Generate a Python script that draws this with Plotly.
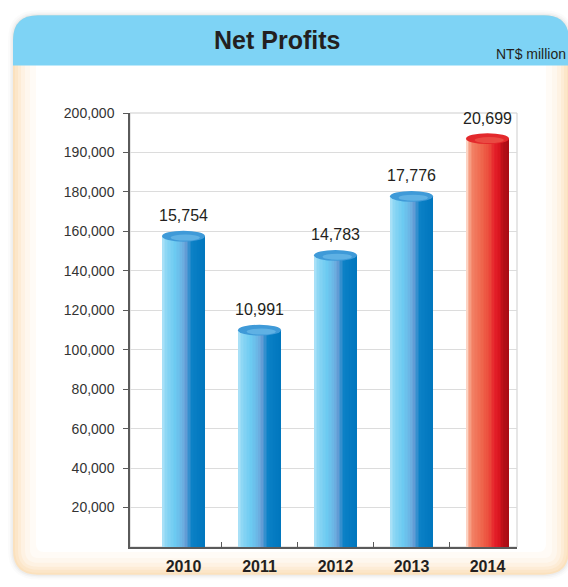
import plotly.graph_objects as go

# ---------------- data ----------------
years = ["2010", "2011", "2012", "2013", "2014"]
net_profits = [15754, 10991, 14783, 17776, 20699]          # NT$ million
value_labels = ["15,754", "10,991", "14,783", "17,776", "20,699"]
y_tick_labels = ["20,000", "40,000", "60,000", "80,000", "100,000", "120,000",
                 "140,000", "160,000", "180,000", "190,000", "200,000"]
highlight_year = "2014"

# ---------------- geometry / style ----------------
W, H = 568, 587
L, R, T, B = 130, 51, 113, 35
PW, PH = W - L - R, H - T - B
TICK_STEP = 2000
Y_MAX = TICK_STEP * len(y_tick_labels)
X_RANGE = [-0.704, 4.388]
BAR_W = 0.566
N_SLICES = 28
FONT = "Arial, Liberation Sans, Helvetica, sans-serif"
TXT = "#231f20"

blue_stops = [(0, "#aee2f8"), (0.10, "#8ad6f4"), (0.30, "#6ccaf1"), (0.44, "#6bb9e7"),
              (0.54, "#6a9fd6"), (0.62, "#3790cf"), (0.70, "#0a80c6"), (1, "#0076bd")]
red_stops = [(0, "#fde5d8"), (0.06, "#f8aa90"), (0.15, "#f28064"), (0.40, "#ee6249"),
             (0.55, "#ea4639"), (0.66, "#e5212a"), (0.78, "#d9151f"), (0.86, "#b60f17"),
             (1, "#a70d14")]


def hex2rgb(h):
    h = h.lstrip("#")
    return tuple(int(h[i:i + 2], 16) for i in (0, 2, 4))


def interp(stops, t):
    for (t0, c0), (t1, c1) in zip(stops[:-1], stops[1:]):
        if t0 <= t <= t1:
            f = 0 if t1 == t0 else (t - t0) / (t1 - t0)
            a, b = hex2rgb(c0), hex2rgb(c1)
            return "rgb(%d,%d,%d)" % tuple(round(a[i] + (b[i] - a[i]) * f) for i in range(3))
    return stops[-1][1]


def px2x(px):
    return (px - L) / PW


def py2y(py):
    return (H - B - py) / PH


def path_str(pts):
    s = ""
    for cmd, ps in pts:
        s += cmd + " " + " ".join("%.5f,%.5f" % (px2x(a), py2y(b)) for a, b in ps) + " "
    return s + "Z"


def rrect_path(x0, y0, x1, y1, r):
    return path_str([
        ("M", [(x0 + r, y0)]), ("L", [(x1 - r, y0)]), ("Q", [(x1, y0), (x1, y0 + r)]),
        ("L", [(x1, y1 - r)]), ("Q", [(x1, y1), (x1 - r, y1)]), ("L", [(x0 + r, y1)]),
        ("Q", [(x0, y1), (x0, y1 - r)]), ("L", [(x0, y0 + r)]), ("Q", [(x0, y0), (x0 + r, y0)]),
    ])


def band_path(x0, y0, x1, y1, r):
    return path_str([
        ("M", [(x0, y1)]), ("L", [(x0, y0 + r)]), ("Q", [(x0, y0), (x0 + r, y0)]),
        ("L", [(x1 - r, y0)]), ("Q", [(x1, y0), (x1, y0 + r)]), ("L", [(x1, y1)]),
    ])


fig = go.Figure()

xs = list(range(len(years)))
is_hi = [y == highlight_year for y in years]

# gradient cylinders: overlayed bar slices
sw = BAR_W / N_SLICES
for k in range(N_SLICES):
    t = (k + 0.5) / N_SLICES
    off = -BAR_W / 2 + k * sw
    width = min(sw * 1.35, BAR_W / 2 - off)
    cols = [interp(red_stops if h else blue_stops, t) for h in is_hi]
    fig.add_trace(go.Bar(
        x=xs, y=net_profits, offset=off, width=width,
        marker=dict(color=cols, line=dict(width=0)),
        hoverinfo="skip", showlegend=False,
    ))

shapes = []
# soft outer shadow
for d, a in [(5, 0.015), (3, 0.022), (1.5, 0.03)]:
    shapes.append(dict(type="path", xref="paper", yref="paper", layer="below",
                       path=rrect_path(13 - d, 14 - d, 569 + d, 580 + d, 25 + d),
                       fillcolor="rgba(0,0,0,%.3f)" % a, line=dict(width=0)))
# panel with warm inner glow
for inset, col in [(0, "#fbe1bd"), (2, "#fce6c9"), (5, "#fdecd6"), (8, "#fef2e3"),
                   (12, "#fef7ee"), (17, "#fffbf6"), (23, "#ffffff")]:
    shapes.append(dict(type="path", xref="paper", yref="paper", layer="below",
                       path=rrect_path(13 + inset, 14 + inset, 569 - inset, 580 - inset,
                                       max(25 - inset, 8)),
                       fillcolor=col, line=dict(width=0)))
# header band
shapes.append(dict(type="path", xref="paper", yref="paper", layer="below",
                   path=band_path(13, 14, 569, 65, 25),
                   fillcolor="#7ed3f5", line=dict(width=0)))
# light frame of plot area
shapes.append(dict(type="rect", xref="paper", yref="paper", layer="below",
                   x0=0, x1=1, y0=0, y1=1, line=dict(color="#cdcdcd", width=1),
                   fillcolor="rgba(0,0,0,0)"))

# cylinder caps
hh = 5.5 * Y_MAX / PH
for x, v, h in zip(xs, net_profits, is_hi):
    outer = "#e3292c" if h else "#3f9ad8"
    inner = "#ee6152" if h else "#74c2ec"
    shapes.append(dict(type="circle", xref="x", yref="y",
                       x0=x - BAR_W / 2, x1=x + BAR_W / 2, y0=v - hh, y1=v + hh,
                       fillcolor=outer, line=dict(width=0)))
    shapes.append(dict(type="circle", xref="x", yref="y",
                       x0=x - BAR_W * 0.30, x1=x + BAR_W * 0.38,
                       y0=v - hh * 0.8, y1=v + hh * 0.3,
                       fillcolor=inner, opacity=0.6, line=dict(width=0)))

annotations = []
for x, v, lab in zip(xs, net_profits, value_labels):
    annotations.append(dict(x=x, y=v, xref="x", yref="y", text=lab, showarrow=False,
                            yanchor="bottom", yshift=10,
                            font=dict(family=FONT, size=16, color=TXT)))
annotations.append(dict(x=px2x(277), y=py2y(39), xref="paper", yref="paper",
                        text="Net Profits", showarrow=False, xanchor="center", yanchor="middle",
                        font=dict(family=FONT, size=25, color=TXT, weight="bold")))
annotations.append(dict(x=px2x(568), y=py2y(53), xref="paper", yref="paper",
                        text="NT$ million", showarrow=False, xanchor="right", yanchor="middle",
                        font=dict(family=FONT, size=14, color=TXT)))

fig.update_layout(
    width=W, height=H,
    margin=dict(l=L, r=R, t=T, b=B, pad=0),
    paper_bgcolor="#ffffff", plot_bgcolor="rgba(0,0,0,0)",
    barmode="overlay", bargap=0,
    shapes=shapes, annotations=annotations,
    showlegend=False,
)
fig.update_xaxes(
    type="linear", range=X_RANGE, tickmode="array", tickvals=xs, ticktext=years,
    ticks="", showgrid=False, zeroline=False,
    showline=True, linecolor="#5a5a5a", linewidth=1.5,
    tickfont=dict(family=FONT, size=16, color=TXT, weight="bold"),
    ticklabelstandoff=4,
    minor=dict(tickmode="array", tickvals=[x + 0.5 for x in xs[:-1]], ticks="inside",
               ticklen=5, tickwidth=1.2, tickcolor="#5a5a5a", showgrid=False),
)
fig.update_yaxes(
    range=[0, Y_MAX], tickmode="array",
    tickvals=[TICK_STEP * (i + 1) for i in range(len(y_tick_labels))],
    ticktext=y_tick_labels,
    ticks="outside", ticklen=5, tickwidth=1.2, tickcolor="#5a5a5a",
    showgrid=True, gridcolor="#dcdcdc", gridwidth=1, zeroline=False,
    showline=True, linecolor="#5a5a5a", linewidth=1.5,
    tickfont=dict(family=FONT, size=14, color="#333333"),
    ticklabelstandoff=6,
)

fig.write_html("out.html",
               config={"displayModeBar": False},
               post_script="document.body.style.margin='0';document.body.style.overflow='hidden';")
